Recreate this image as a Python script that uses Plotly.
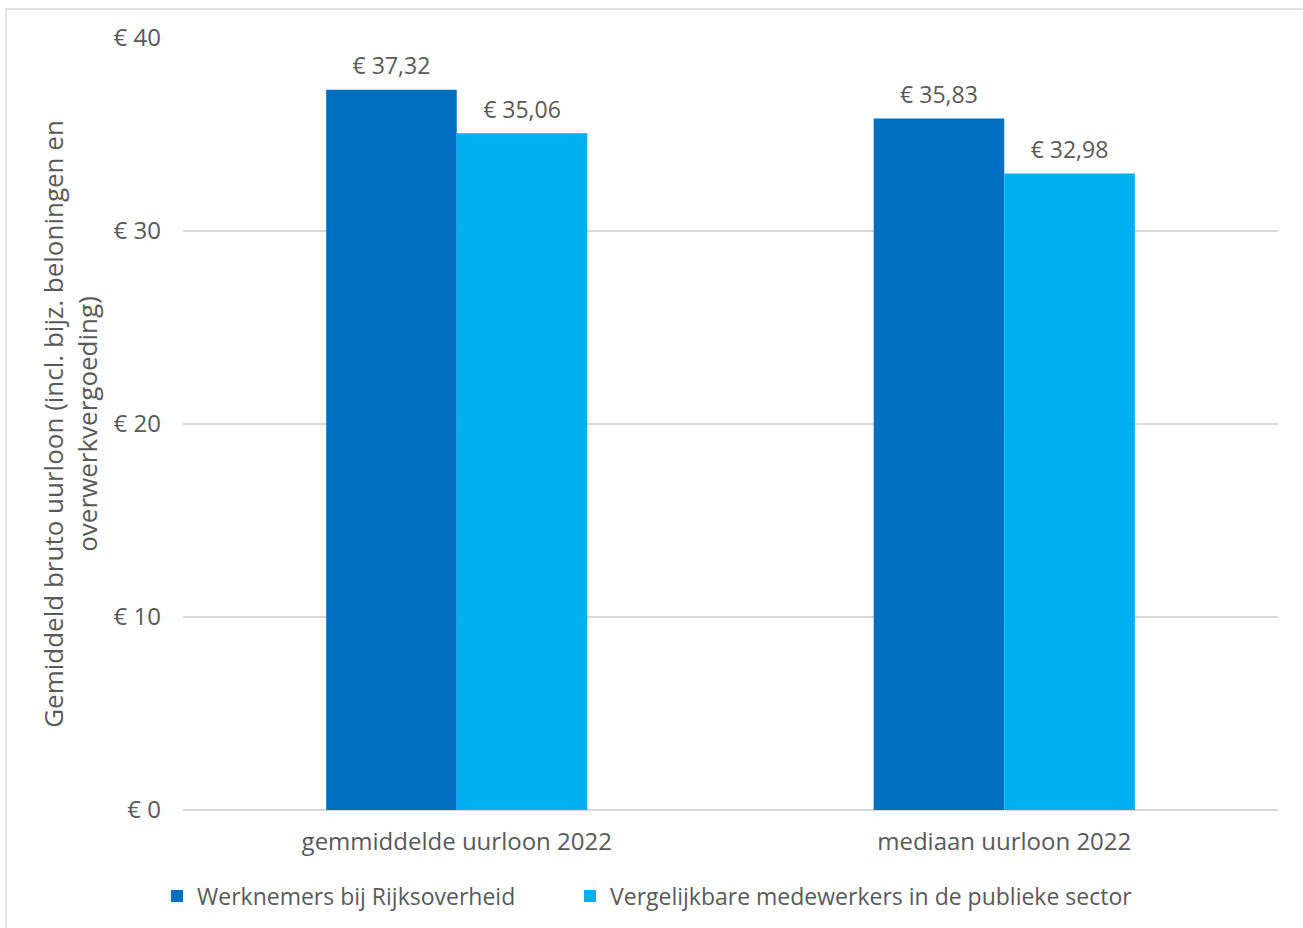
import plotly.graph_objects as go

categories = ["gemmiddelde uurloon 2022", "mediaan uurloon 2022"]
series_names = ["Werknemers bij Rijksoverheid", "Vergelijkbare medewerkers in de publieke sector"]
rijk_values = [37.32, 35.83]
publiek_values = [35.06, 32.98]
y_tick_values = [0, 10, 20, 30, 40]
y_tick_labels = ["€ 0", "€ 10", "€ 20", "€ 30", "€ 40"]
y_title = "Gemiddeld bruto uurloon (incl. bijz. beloningen en<br>overwerkvergoeding)"

FONT = "Open Sans"
TXT = "#595959"
COLORS = ["#0070C0", "#00B0F0"]

W, H = 1303, 928
L, R, T, B = 183, 25, 38, 117
PW, PH = W - L - R, H - T - B

legend_ids = ["legend", "legend2"]

fig = go.Figure()
for i, (name, vals) in enumerate(zip(series_names, [rijk_values, publiek_values])):
    fig.add_trace(go.Bar(
        x=categories, y=vals, name=name, offsetgroup=str(i),
        marker=dict(color=COLORS[i], line=dict(width=0)),
        hoverinfo="skip", legend=legend_ids[i],
    ))
for i, vals in enumerate([rijk_values, publiek_values]):
    fig.add_trace(go.Scatter(
        x=categories, y=vals, offsetgroup=str(i), mode="text+markers",
        marker=dict(size=14, opacity=0, color=COLORS[i]),
        text=["€ " + f"{v:.2f}".replace(".", ",") for v in vals],
        textposition="top center",
        textfont=dict(size=23, color=TXT, family=FONT),
        showlegend=False, cliponaxis=False, hoverinfo="skip",
    ))

legend_common = dict(
    orientation="h", xanchor="left",
    y=(811 - 896) / PH, yanchor="middle",
    font=dict(size=23, color=TXT, family=FONT),
    itemwidth=30, bgcolor="rgba(0,0,0,0)", borderwidth=0,
)

fig.update_layout(
    width=W, height=H,
    margin=dict(l=L, r=R, t=T, b=B),
    paper_bgcolor="white", plot_bgcolor="white",
    barmode="group", bargap=0.523, bargroupgap=0,
    scattermode="group", scattergap=0.523,
    font=dict(family=FONT, size=23, color=TXT),
    showlegend=True,
    legend=dict(x=(157 - L) / PW, **legend_common),
    legend2=dict(x=(570 - L) / PW, **legend_common),
    xaxis=dict(
        showgrid=False, showline=False, ticks="",
        tickfont=dict(size=24, color=TXT), ticklabelstandoff=15,
    ),
    yaxis=dict(
        range=[0, 40], tickmode="array", tickvals=y_tick_values, ticktext=y_tick_labels,
        showgrid=True, gridcolor="#d9d9d9", gridwidth=1.5,
        zeroline=True, zerolinecolor="#d9d9d9", zerolinewidth=1.5,
        showline=False, ticks="",
        tickfont=dict(size=24, color=TXT), ticklabelstandoff=21,
        title=dict(text=y_title, font=dict(size=26, color=TXT), standoff=8),
    ),
    shapes=[dict(type="rect", xref="paper", yref="paper",
                 x0=(6 - L) / PW, x1=(1310 - L) / PW,
                 y0=(811 - 935) / PH, y1=1 + (T - 9) / PH,
                 line=dict(color="#d9d9d9", width=1.5), layer="below")],
)

fig.write_html("out.html", config={"displayModeBar": False},
               post_script="document.body.style.margin='0';")
